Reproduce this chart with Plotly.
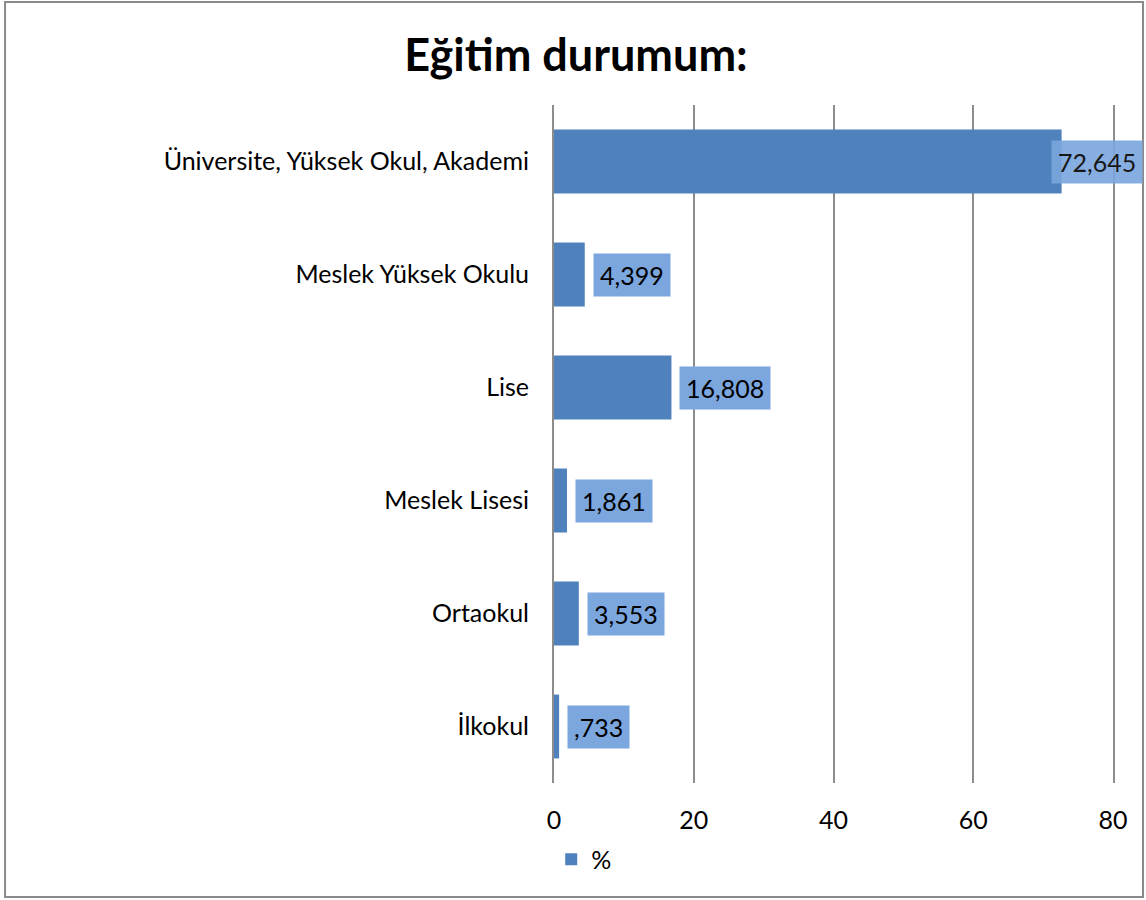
import plotly.graph_objects as go

# Chart data
categories = ['Üniversite, Yüksek Okul, Akademi', 'Meslek Yüksek Okulu', 'Lise',
              'Meslek Lisesi', 'Ortaokul', 'İlkokul']
percent = [72.645, 4.399, 16.808, 1.861, 3.553, 0.733]
x_ticks = [0, 20, 40, 60, 80]
series_name = '%'
title_text = 'Eğitim durumum:'

FONT = 'Lato'
BAR_COLOR = '#4F81BD'
LABEL_BG = '#7BA6DE'
GRID = '#8C8C8C'
X_MAX = 80
FS = 25


# SPSS-style labels: decimal comma, no leading zero
def fmt(v):
    s = f'{v:.3f}'.replace('.', ',')
    return s[1:] if s.startswith('0') else s


fig = go.Figure()
fig.add_trace(go.Bar(x=percent, y=categories, orientation='h', name=series_name,
                     marker=dict(color=BAR_COLOR, line=dict(width=0)),
                     showlegend=True))

# Data labels in boxes, placed right of each bar (clamped to the chart edge)
for cat, v in zip(categories, percent):
    if v > X_MAX * 0.85:
        fig.add_annotation(x=1.0537, xref='paper', y=cat, yref='y', text=fmt(v),
                           xanchor='right', showarrow=False, bgcolor=LABEL_BG, opacity=0.9,
                           borderpad=6, font=dict(family=FONT, size=FS, color='black'))
    else:
        fig.add_annotation(x=v, y=cat, text=fmt(v), xanchor='left', xshift=8,
                           showarrow=False, bgcolor=LABEL_BG, borderpad=6,
                           font=dict(family=FONT, size=FS, color='black'))

# Outer chart border
fig.add_shape(type='rect', xref='paper', yref='paper', x0=-0.982, x1=1.0537,
              y0=-0.168, y1=1.152, line=dict(color='#8A8A8A', width=2), layer='below')

fig.update_layout(
    width=1146, height=900,
    margin=dict(l=554, r=33, t=105, b=117),
    paper_bgcolor='white', plot_bgcolor='white',
    title=dict(text=title_text, x=0.5026, xanchor='center', y=0.939, yanchor='middle',
               font=dict(family=FONT, size=45, color='black', weight='bold')),
    bargap=0.435,
    font=dict(family=FONT, size=FS, color='black'),
    legend=dict(x=-0.005, y=-0.113, xanchor='left', yanchor='middle', orientation='h',
                font=dict(family=FONT, size=FS), itemwidth=30),
    xaxis=dict(range=[0, X_MAX], tickvals=x_ticks, showgrid=True, gridcolor=GRID,
               gridwidth=2, zeroline=False, showline=False, ticks='',
               ticklabelstandoff=20, tickfont=dict(size=FS)),
    yaxis=dict(categoryorder='array', categoryarray=categories[::-1],
               showgrid=False, showline=True, mirror=True, linecolor=GRID, linewidth=2,
               ticks='', ticklabelstandoff=18, tickfont=dict(size=FS)),
)

fig.write_html('out.html', config={'displayModeBar': False},
               post_script="document.body.style.margin='0';")
